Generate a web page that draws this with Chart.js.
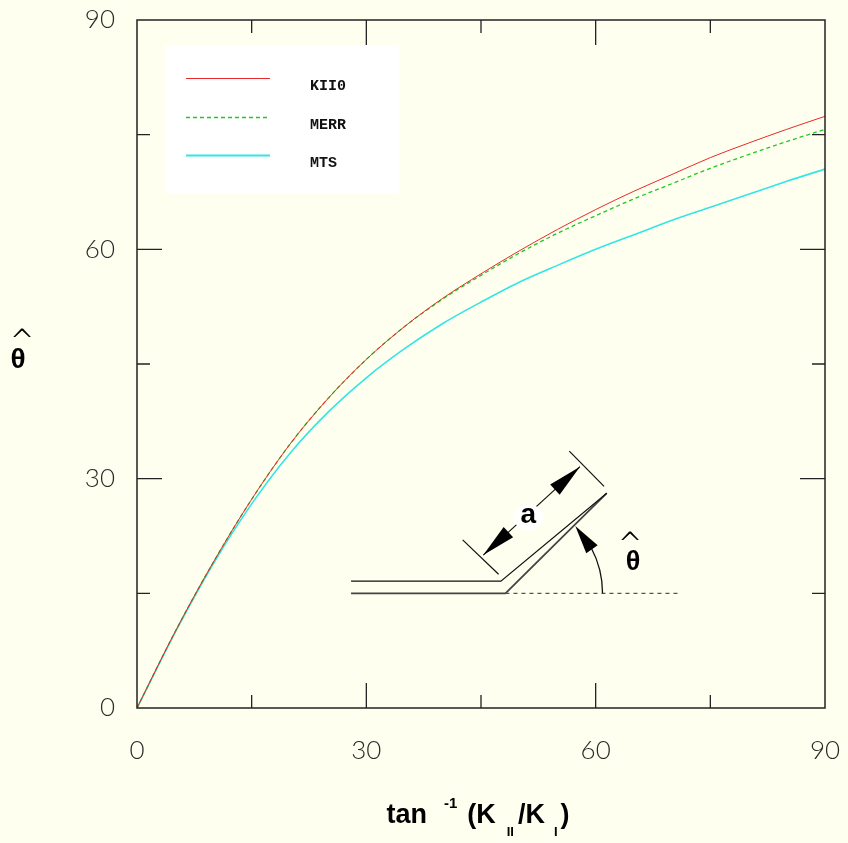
<!DOCTYPE html>
<html>
<head>
<meta charset="utf-8">
<script src="https://cdn.jsdelivr.net/npm/chart.js@4.4.1/dist/chart.umd.min.js"></script>
<style>
  html, body { margin: 0; padding: 0; background: #FFFFF0; }
  #wrap { width: 848px; height: 843px; }
</style>
</head>
<body>
<div id="wrap"><canvas id="c" width="848" height="843"></canvas></div>
<script>
// ---- data ----
const anglesDeg = [0, 5, 10, 15, 20, 25, 30, 35, 40, 45, 50, 55, 60, 65, 70, 75, 80, 85, 90];
const kii0 = [0, 10.0, 19.1, 27.3, 34.5, 40.5, 45.6, 49.9, 53.6, 56.8, 59.8, 62.6, 65.2, 67.6, 69.8, 72.0, 73.9, 75.7, 77.4];
const merr = [0, 10.0, 19.1, 27.3, 34.5, 40.5, 45.6, 49.9, 53.5, 56.6, 59.5, 62.1, 64.4, 66.6, 68.6, 70.6, 72.4, 74.1, 75.7];
const mts  = [0, 9.9, 18.9, 26.7, 33.3, 38.7, 43.2, 47.0, 50.3, 53.1, 55.7, 57.9, 60.0, 61.9, 63.8, 65.5, 67.2, 68.9, 70.5];
const seriesNames = ['KII0', 'MERR', 'MTS'];
const xTickLabels = [0, 30, 60, 90];
const yTickLabels = [0, 30, 60, 90];
const minorTicks = [15, 45, 75];
const majorTicks = [30, 60];

// inset sketch (in data units)
const insetLower = [[28, 15], [48.2, 15], [61.45, 28.1]];
const insetUpper = [[28, 16.6], [47.6, 16.6], [61.45, 28.1]];
const insetDotted = [[48.2, 15], [70.8, 15]];
const insetTickA = [[42.6, 22.0], [47.3, 17.5]];
const insetTickB = [[56.55, 33.6], [61.1, 29.0]];
const insetArrow = [[45.3, 20.0], [57.95, 31.57]];
const insetALabel = [51.2, 24.95];
const insetArcRadius = 12.7;
const insetThetaLabel = [64.9, 19.0];

const BG = '#FFFFF0';
const colors = ['#e52b2b', '#22c822', '#33e5e5'];

function pts(ys) { return anglesDeg.map((x, i) => ({ x: x, y: ys[i] })); }

const bgPlugin = {
  id: 'bg',
  beforeDraw(chart) {
    const ctx = chart.ctx;
    ctx.save();
    ctx.fillStyle = BG;
    ctx.fillRect(0, 0, chart.width, chart.height);
    ctx.restore();
  }
};

function arrowHead(ctx, tx, ty, dx, dy, len, hw) {
  const L = Math.hypot(dx, dy); dx /= L; dy /= L;
  const bx = tx - dx * len, by = ty - dy * len;
  ctx.beginPath();
  ctx.moveTo(tx, ty);
  ctx.lineTo(bx - dy * hw, by + dx * hw);
  ctx.lineTo(bx + dy * hw, by - dx * hw);
  ctx.closePath();
  ctx.fill();
}

const TICK_FONT = '300 26px Lato, "Liberation Sans", sans-serif';

const decoPlugin = {
  id: 'deco',
  afterDraw(chart) {
    const ctx = chart.ctx;
    const xs = chart.scales.x, ys = chart.scales.y;
    const a = chart.chartArea;
    const P = (p) => [xs.getPixelForValue(p[0]), ys.getPixelForValue(p[1])];
    ctx.save();

    // frame
    ctx.strokeStyle = '#222';
    ctx.lineWidth = 1.5;
    ctx.strokeRect(a.left, a.top, a.right - a.left, a.bottom - a.top);

    // inward ticks on all four sides
    ctx.lineWidth = 1.3;
    const drawTicks = (vals, len) => {
      vals.forEach(v => {
        const px = xs.getPixelForValue(v), py = ys.getPixelForValue(v);
        ctx.beginPath();
        ctx.moveTo(px, a.bottom); ctx.lineTo(px, a.bottom - len);
        ctx.moveTo(px, a.top); ctx.lineTo(px, a.top + len);
        ctx.moveTo(a.left, py); ctx.lineTo(a.left + len, py);
        ctx.moveTo(a.right, py); ctx.lineTo(a.right - len, py);
        ctx.stroke();
      });
    };
    drawTicks(majorTicks, 25);
    drawTicks(minorTicks, 13);

    // tick labels (positions from the scales)
    ctx.fillStyle = '#2a2a2a';
    ctx.font = TICK_FONT;
    ctx.textBaseline = 'middle';
    ctx.textAlign = 'right';
    yTickLabels.forEach(v => ctx.fillText(String(v), a.left - 22, ys.getPixelForValue(v)));
    ctx.textAlign = 'center';
    xTickLabels.forEach(v => ctx.fillText(String(v), xs.getPixelForValue(v), a.bottom + 43));

    // legend box
    const lx = a.left + 28, ly = a.top + 25;
    ctx.fillStyle = '#ffffff';
    ctx.fillRect(lx, ly, 234, 148);
    const dashes = [[], [4, 3], []];
    const widths = [1.2, 1.5, 2];
    seriesNames.forEach((name, i) => {
      const yy = Math.round(ly + 33 + i * 38.5) + 0.5;
      ctx.strokeStyle = colors[i];
      ctx.lineWidth = widths[i];
      ctx.setLineDash(dashes[i]);
      ctx.beginPath();
      ctx.moveTo(lx + 21, yy); ctx.lineTo(lx + 105, yy);
      ctx.stroke();
      ctx.setLineDash([]);
      ctx.fillStyle = '#111';
      ctx.font = 'bold 15px "Liberation Mono", "DejaVu Sans Mono", monospace';
      ctx.textAlign = 'left';
      ctx.textBaseline = 'middle';
      ctx.fillText(name, lx + 145, yy + 8);
    });

    // inset sketch
    const poly = (arr) => {
      ctx.beginPath();
      arr.forEach((p, i) => { const q = P(p); if (i === 0) ctx.moveTo(q[0], q[1]); else ctx.lineTo(q[0], q[1]); });
      ctx.stroke();
    };
    ctx.strokeStyle = '#444'; ctx.lineWidth = 1.8;
    poly(insetLower);
    ctx.strokeStyle = '#111'; ctx.lineWidth = 1.2;
    poly(insetUpper);
    poly(insetTickA);
    poly(insetTickB);
    ctx.setLineDash([4, 4]);
    ctx.strokeStyle = '#555';
    poly(insetDotted);
    ctx.setLineDash([]);
    ctx.strokeStyle = '#111';
    poly(insetArrow);
    const A0 = P(insetArrow[0]), A1 = P(insetArrow[1]);
    ctx.fillStyle = '#000';
    arrowHead(ctx, A0[0], A0[1], A0[0] - A1[0], A0[1] - A1[1], 34, 7);
    arrowHead(ctx, A1[0], A1[1], A1[0] - A0[0], A1[1] - A0[1], 34, 7);
    const AL = P(insetALabel);
    ctx.fillStyle = '#ffffff';
    ctx.beginPath();
    ctx.ellipse(AL[0], AL[1], 15, 13, 0, 0, Math.PI * 2);
    ctx.fill();
    ctx.fillStyle = '#000';
    ctx.font = 'bold 28px "Liberation Sans", Arial, sans-serif';
    ctx.textAlign = 'center';
    ctx.textBaseline = 'middle';
    ctx.fillText('a', AL[0], AL[1] - 2);

    // angle arc with arrow
    const C = P(insetLower[1]);
    const R = xs.getPixelForValue(insetLower[1][0] + insetArcRadius) - C[0];
    const deg = Math.PI / 180;
    ctx.strokeStyle = '#111';
    ctx.lineWidth = 1.3;
    ctx.beginPath();
    ctx.arc(C[0], C[1], R, 0, -28 * deg, true);
    ctx.stroke();
    const tipAng = 44 * deg, baseAng = 27 * deg;
    const tip = [C[0] + R * Math.cos(tipAng), C[1] - R * Math.sin(tipAng)];
    const base = [C[0] + R * Math.cos(baseAng), C[1] - R * Math.sin(baseAng)];
    ctx.fillStyle = '#000';
    arrowHead(ctx, tip[0], tip[1], tip[0] - base[0], tip[1] - base[1], Math.hypot(tip[0] - base[0], tip[1] - base[1]), 7);

    const TL = P(insetThetaLabel);
    ctx.font = 'bold 27px "Liberation Sans", Arial, sans-serif';
    ctx.textAlign = 'center';
    ctx.textBaseline = 'middle';
    ctx.fillText('θ', TL[0], TL[1]);
    ctx.font = '300 30px "DejaVu Sans", sans-serif';
    ctx.fillText('^', TL[0] - 3, TL[1] - 17);

    // y-axis title (theta hat)
    ctx.font = 'bold 28px "Liberation Sans", Arial, sans-serif';
    ctx.fillText('θ', 18, 360);
    ctx.font = '300 30px "DejaVu Sans", sans-serif';
    ctx.fillText('^', 22, 343);

    // x-axis title: tan^-1 (K_II / K_I)
    ctx.textAlign = 'left';
    ctx.textBaseline = 'alphabetic';
    const big = 'bold 27px "Liberation Sans", Arial, sans-serif';
    const sup = 'bold 15px "Liberation Sans", Arial, sans-serif';
    const sub = 'bold 13px "Liberation Sans", Arial, sans-serif';
    const base0 = 823;
    const parts = [
      ['tan', big, 0, 0],
      ['-1', sup, -15, 17],
      ['(K', big, 0, 10],
      ['II', sub, 13, 11],
      ['/K', big, 0, 4],
      ['I', sub, 13, 9],
      [')', big, 0, 3]
    ];
    let total = 0;
    parts.forEach(p => { ctx.font = p[1]; total += p[3] + ctx.measureText(p[0]).width; });
    let cx = (a.left + a.right) / 2 - 3 - total / 2;
    parts.forEach(p => {
      ctx.font = p[1];
      cx += p[3];
      ctx.fillText(p[0], cx, base0 + p[2]);
      cx += ctx.measureText(p[0]).width;
    });
    ctx.restore();
  }
};

new Chart(document.getElementById('c'), {
  type: 'scatter',
  data: {
    datasets: [
      { label: seriesNames[0], data: pts(kii0), showLine: true, borderColor: colors[0], borderWidth: 1, pointRadius: 0, cubicInterpolationMode: 'monotone' },
      { label: seriesNames[1], data: pts(merr), showLine: true, borderColor: colors[1], borderWidth: 1.3, borderDash: [4, 3], pointRadius: 0, cubicInterpolationMode: 'monotone' },
      { label: seriesNames[2], data: pts(mts), showLine: true, borderColor: colors[2], borderWidth: 1.6, pointRadius: 0, cubicInterpolationMode: 'monotone' }
    ]
  },
  options: {
    responsive: false,
    animation: false,
    devicePixelRatio: 1,
    layout: { padding: { left: 0, top: 20, right: 23, bottom: 0 } },
    plugins: { legend: { display: false }, tooltip: { enabled: false } },
    scales: {
      x: {
        type: 'linear', min: 0, max: 90,
        afterFit: (s) => { s.height = 135; },
        grid: { display: false, drawTicks: false },
        border: { display: false },
        ticks: { display: false }
      },
      y: {
        type: 'linear', min: 0, max: 90,
        afterFit: (s) => { s.width = 137; },
        grid: { display: false, drawTicks: false },
        border: { display: false },
        ticks: { display: false }
      }
    }
  },
  plugins: [bgPlugin, decoPlugin]
});
</script>
</body>
</html>
